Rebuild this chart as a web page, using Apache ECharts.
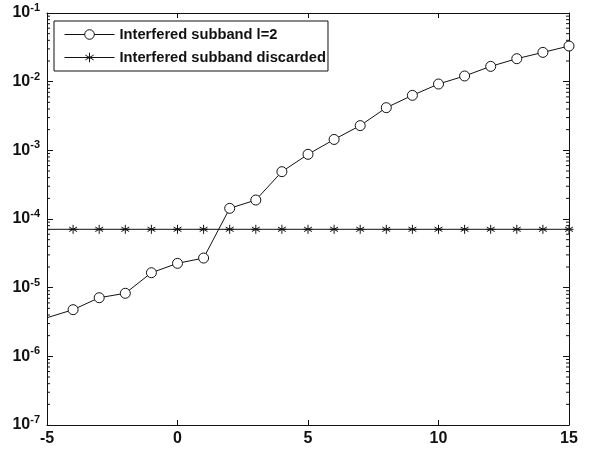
<!DOCTYPE html>
<html lang="en">
<head>
    <meta charset="UTF-8">
    <title>Interfered subband</title>
    <script src="https://cdn.jsdelivr.net/npm/echarts@6/dist/echarts.min.js"></script>
    <style>
        html, body { margin: 0; padding: 0; background: #fff; }
    </style>
</head>
<body>
    <div id="main" style="width: 602px;height:450px;"></div>
    <script type="text/javascript">
        // values
        const xValues = [-5, -4, -3, -2, -1, 0, 1, 2, 3, 4, 5, 6, 7, 8, 9, 10, 11, 12, 13, 14, 15];
        const subbandL2 = [3.65e-6, 4.78e-6, 7.14e-6, 8.28e-6, 1.65e-5, 2.26e-5, 2.70e-5, 1.43e-4, 1.89e-4,
            4.89e-4, 8.75e-4, 1.44e-3, 2.29e-3, 4.18e-3, 6.32e-3, 9.24e-3, 1.21e-2, 1.67e-2, 2.16e-2, 2.67e-2, 3.30e-2];
        const subbandDiscarded = [7.08e-5, 7.08e-5, 7.08e-5, 7.08e-5, 7.08e-5, 7.08e-5, 7.08e-5, 7.08e-5, 7.08e-5,
            7.08e-5, 7.08e-5, 7.08e-5, 7.08e-5, 7.08e-5, 7.08e-5, 7.08e-5, 7.08e-5, 7.08e-5, 7.08e-5, 7.08e-5, 7.08e-5];
        const seriesNames = ['Interfered subband l=2', 'Interfered subband discarded'];
        const decades = [-7, -6, -5, -4, -3, -2];
        const minorSteps = [2, 3, 4, 5, 6, 7, 8, 9];

        const font = 'Liberation Sans, Arial, sans-serif';
        const ink = '#111';
        const asterisk = 'path://M0,-5L0,5M-4.33,-2.5L4.33,2.5M-4.33,2.5L4.33,-2.5M-5,0L5,0';

        // log minor tick positions (2..9 within each decade)
        const minorValues = [];
        decades.forEach(d => minorSteps.forEach(m => minorValues.push([m * Math.pow(10, d)])));

        function pairs(ys) {
            return xValues.map((x, i) => {
                const item = { value: [x, ys[i]] };
                if (i === 0) item.symbol = 'none';   // line enters from outside the axes
                return item;
            });
        }

        const yLabel = {
            color: ink,
            margin: 7,
            formatter: v => '{a|10}{b|' + Math.round(Math.log10(v)) + '}',
            rich: {
                a: { fontFamily: font, fontWeight: 'bold', fontSize: 16, color: ink },
                b: { fontFamily: font, fontWeight: 'bold', fontSize: 11, color: ink, padding: [0, 0, 10, 0] }
            }
        };

        const myChart = echarts.init(document.getElementById('main'));

        const option = {
            animation: false,
            backgroundColor: '#fff',
            grid: { left: 47, right: 33, top: 13, bottom: 25, containLabel: false },
            legend: {
                data: seriesNames,
                orient: 'vertical',
                left: 54,
                top: 21,
                itemWidth: 50,
                itemHeight: 12,
                itemGap: 8,
                padding: [6, 2, 6, 10],
                backgroundColor: '#fff',
                borderColor: ink,
                borderWidth: 1,
                borderRadius: 0,
                lineStyle: { width: 1 },
                itemStyle: { borderWidth: 1 },
                textStyle: { fontFamily: font, fontWeight: 'bold', fontSize: 14.7, color: ink }
            },
            xAxis: [{
                type: 'value',
                min: -5, max: 15, interval: 5,
                axisLine: { onZero: false, lineStyle: { color: ink, width: 1 } },
                axisTick: { inside: true, length: 5, lineStyle: { color: ink } },
                axisLabel: { margin: 6, color: ink, fontFamily: font, fontWeight: 'bold', fontSize: 16 },
                splitLine: { show: false }
            }, {
                type: 'value', position: 'top',
                min: -5, max: 15, interval: 5,
                axisLine: { onZero: false, lineStyle: { color: ink, width: 1 } },
                axisTick: { inside: true, length: 5, lineStyle: { color: ink } },
                axisLabel: { show: false },
                splitLine: { show: false }
            }],
            yAxis: [{
                type: 'log', logBase: 10,
                min: 1e-7, max: 1e-1, splitNumber: 6,
                axisLine: { show: true, onZero: false, lineStyle: { color: ink, width: 1 } },
                axisTick: { show: true, inside: true, length: 6, lineStyle: { color: ink } },
                axisLabel: yLabel,
                splitLine: { show: false }
            }, {
                type: 'log', logBase: 10, position: 'right',
                min: 1e-7, max: 1e-1, splitNumber: 6,
                axisLine: { show: true, onZero: false, lineStyle: { color: ink, width: 1 } },
                axisTick: { show: true, inside: true, length: 6, lineStyle: { color: ink } },
                axisLabel: { show: false },
                splitLine: { show: false }
            }],
            series: [{
                name: seriesNames[0],
                type: 'line',
                data: pairs(subbandL2),
                symbol: 'circle',
                symbolSize: 10,
                lineStyle: { color: ink, width: 1 },
                itemStyle: { color: '#fff', borderColor: ink, borderWidth: 1 },
                z: 4
            }, {
                name: seriesNames[1],
                type: 'line',
                data: pairs(subbandDiscarded),
                symbol: asterisk,
                symbolKeepAspect: true,
                symbolSize: 9,
                lineStyle: { color: ink, width: 1 },
                itemStyle: { color: 'none', borderColor: ink, borderWidth: 1 },
                z: 3
            }, {
                type: 'custom',
                silent: true,
                data: minorValues,
                renderItem: (params, api) => {
                    const v = api.value(0);
                    const l = api.coord([-5, v]);
                    const r = api.coord([15, v]);
                    const style = { stroke: ink, lineWidth: 1 };
                    return {
                        type: 'group',
                        children: [
                            { type: 'line', shape: { x1: l[0], y1: l[1], x2: l[0] + 3, y2: l[1] }, style },
                            { type: 'line', shape: { x1: r[0], y1: r[1], x2: r[0] - 3, y2: r[1] }, style }
                        ]
                    };
                },
                encode: { y: 0 },
                z: 2
            }]
        };

        myChart.setOption(option);
    </script>
</body>
</html>
